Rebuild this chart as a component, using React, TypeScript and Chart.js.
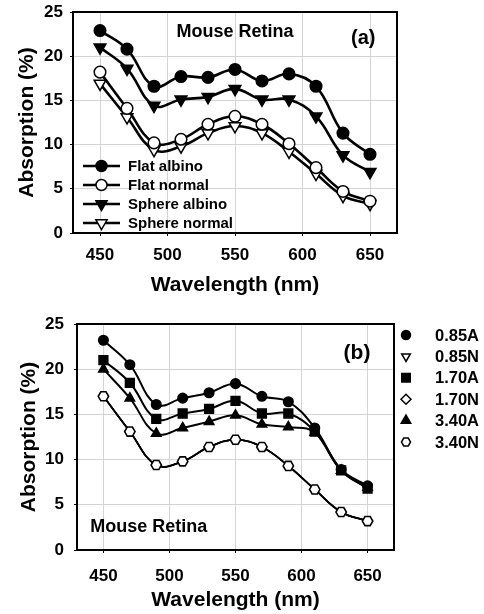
import React, { useEffect, useRef } from 'react';
import { Chart, registerables } from 'chart.js';
Chart.register(...registerables);

const wavelengths = [450, 470, 490, 510, 530, 550, 570, 590, 610, 630, 650];
const xTicks = [450, 500, 550, 600, 650];
const yTicks = [0, 5, 10, 15, 20, 25];

// Panel (a)
const flatAlbino = [22.9, 20.8, 16.6, 17.7, 17.6, 18.5, 17.2, 18.0, 16.6, 11.3, 8.9];
const flatNormal = [18.2, 14.1, 10.2, 10.6, 12.3, 13.2, 12.3, 10.1, 7.4, 4.7, 3.6];
const sphereAlbino = [21.0, 18.6, 14.4, 15.1, 15.4, 16.3, 15.1, 15.1, 13.2, 8.8, 6.9];
const sphereNormal = [16.9, 13.1, 9.4, 9.8, 11.3, 12.1, 11.3, 9.2, 6.7, 4.2, 3.3];
const legendA = ['Flat albino', 'Flat normal', 'Sphere albino', 'Sphere normal'];

// Panel (b)
const a085 = [23.2, 20.5, 16.1, 16.8, 17.4, 18.4, 17.0, 16.4, 13.5, 8.9, 7.1];
const n085 = [17.0, 13.1, 9.4, 9.8, 11.4, 12.2, 11.4, 9.3, 6.7, 4.2, 3.2];
const a170 = [21.0, 18.5, 14.5, 15.1, 15.6, 16.5, 15.1, 15.1, 13.1, 8.8, 6.8];
const n170 = [17.0, 13.1, 9.4, 9.8, 11.4, 12.2, 11.4, 9.3, 6.7, 4.2, 3.2];
const a340 = [20.0, 16.8, 12.9, 13.5, 14.2, 14.9, 13.9, 13.6, 13.0, 8.8, 6.9];
const n340 = [17.0, 13.1, 9.4, 9.8, 11.4, 12.2, 11.4, 9.3, 6.7, 4.2, 3.2];
const legendB = ['0.85A', '0.85N', '1.70A', '1.70N', '3.40A', '3.40N'];

const FONT = "'Liberation Sans', Arial, Helvetica, sans-serif";

function drawMarker(ctx: CanvasRenderingContext2D, kind: string, x: number, y: number, r: number, filled: boolean, lw: number) {
  ctx.save();
  ctx.beginPath();
  if (kind === 'circle') {
    ctx.arc(x, y, r, 0, Math.PI * 2);
  } else if (kind === 'down' || kind === 'up') {
    const base = kind === 'down' ? Math.PI : 0;
    for (let i = 0; i < 3; i++) {
      const ang = base + (2 * Math.PI / 3) * i;
      const px = x + Math.sin(ang) * r;
      const py = y - Math.cos(ang) * r;
      if (i === 0) ctx.moveTo(px, py); else ctx.lineTo(px, py);
    }
    ctx.closePath();
  } else if (kind === 'square') {
    const s = r * Math.SQRT1_2;
    ctx.rect(x - s, y - s, 2 * s, 2 * s);
  } else if (kind === 'diamond') {
    ctx.moveTo(x, y - r);
    ctx.lineTo(x + r, y);
    ctx.lineTo(x, y + r);
    ctx.lineTo(x - r, y);
    ctx.closePath();
  } else if (kind === 'hex') {
    for (let i = 0; i < 6; i++) {
      const ang = (Math.PI / 3) * i;
      const px = x + r * Math.cos(ang);
      const py = y + r * Math.sin(ang);
      if (i === 0) ctx.moveTo(px, py); else ctx.lineTo(px, py);
    }
    ctx.closePath();
  }
  ctx.fillStyle = filled ? '#000' : '#fff';
  ctx.fill();
  ctx.lineWidth = lw;
  ctx.strokeStyle = '#000';
  ctx.stroke();
  ctx.restore();
}

function ds(label: string, data: number[], style: any, radius: number, filled: boolean, lineWidth: number, rotation = 0, order = 0) {
  return {
    label,
    data: data.map((v, i) => ({ x: wavelengths[i], y: v })),
    borderColor: '#000',
    backgroundColor: filled ? '#000' : '#fff',
    pointStyle: style,
    pointRadius: radius,
    pointRotation: rotation,
    pointBackgroundColor: filled ? '#000' : '#fff',
    pointBorderColor: '#000',
    pointBorderWidth: 1.5,
    borderWidth: lineWidth,
    tension: 0.4,
    order,
  };
}

function baseOptions(yAxisWidth: number, xAxisHeight: number, padRight: number, padTop: number, yTickPad: number, xTickPad: number, xTitlePadBottom: number, yTitlePadTop: number) {
  return {
    animation: false,
    responsive: false,
    maintainAspectRatio: false,
    layout: { padding: { left: 0, right: padRight, top: padTop, bottom: 0 } },
    plugins: { legend: { display: false }, tooltip: { enabled: false } },
    scales: {
      x: {
        type: 'linear',
        min: 430,
        max: 670,
        afterBuildTicks: (axis: any) => { axis.ticks = xTicks.map((v) => ({ value: v })); },
        afterFit: (scale: any) => { scale.height = xAxisHeight; scale.paddingLeft = 0; scale.paddingRight = 0; },
        grid: { color: '#d4d4d4', lineWidth: 1, tickColor: '#000', tickLength: 3, drawTicks: true },
        border: { display: false },
        ticks: { color: '#000', font: { family: FONT, size: 17, weight: 'bold' }, padding: xTickPad, maxRotation: 0 },
        title: { display: true, text: 'Wavelength (nm)', color: '#000', font: { family: FONT, size: 21, weight: 'bold' }, padding: { top: 0, bottom: xTitlePadBottom } },
      },
      y: {
        type: 'linear',
        min: 0,
        max: 25,
        afterBuildTicks: (axis: any) => { axis.ticks = yTicks.map((v) => ({ value: v })); },
        afterFit: (scale: any) => { scale.width = yAxisWidth; scale.paddingTop = 0; scale.paddingBottom = 0; },
        grid: { color: '#d4d4d4', lineWidth: 1, tickColor: '#000', tickLength: 3, drawTicks: true },
        border: { display: false },
        ticks: { color: '#000', font: { family: FONT, size: 17, weight: 'bold' }, padding: yTickPad },
        title: { display: true, text: 'Absorption (%)', color: '#000', font: { family: FONT, size: 21, weight: 'bold' }, padding: { top: yTitlePadTop, bottom: 0 } },
      },
    },
  };
}

const frame = {
  id: 'frame',
  beforeDatasetsDraw(chart: any) {
    const { ctx, chartArea } = chart;
    ctx.save();
    ctx.lineWidth = 2;
    ctx.strokeStyle = '#000';
    ctx.strokeRect(chartArea.left, chartArea.top, chartArea.right - chartArea.left, chartArea.bottom - chartArea.top);
    ctx.restore();
  },
};

function ChartA() {
  const ref = useRef<HTMLCanvasElement>(null);
  useEffect(() => {
    const annot = {
      id: 'annotA',
      afterDatasetsDraw(chart: any) {
        const { ctx } = chart;
        const xs = chart.scales.x;
        const ys = chart.scales.y;
        ctx.save();
        ctx.fillStyle = '#000';
        ctx.textBaseline = 'middle';
        ctx.textAlign = 'center';
        ctx.font = `bold 18px ${FONT}`;
        ctx.fillText('Mouse Retina', xs.getPixelForValue(550), ys.getPixelForValue(22.7));
        ctx.font = `bold 20px ${FONT}`;
        ctx.fillText('(a)', xs.getPixelForValue(645), ys.getPixelForValue(22.0));
        const kinds = ['circle', 'circle', 'down', 'down'];
        const fills = [true, false, true, false];
        const radii = [5.5, 5.5, 6.5, 6.5];
        ctx.font = `bold 15px ${FONT}`;
        ctx.textAlign = 'left';
        const x0 = chart.chartArea.left + 10;
        for (let i = 0; i < legendA.length; i++) {
          const y = chart.chartArea.top + 154 + i * 19;
          ctx.beginPath();
          ctx.lineWidth = 2.5;
          ctx.strokeStyle = '#000';
          ctx.moveTo(x0, y);
          ctx.lineTo(x0 + 37, y);
          ctx.stroke();
          drawMarker(ctx, kinds[i], x0 + 18.5, y, radii[i], fills[i], 1.5);
          ctx.fillStyle = '#000';
          ctx.fillText(legendA[i], x0 + 45, y + 1);
        }
        ctx.restore();
      },
    };
    const chart = new Chart(ref.current!, {
      type: 'line',
      data: {
        datasets: [
          ds('Flat albino', flatAlbino, 'circle', 5.8, true, 2.6),
          ds('Flat normal', flatNormal, 'circle', 5.8, false, 2.6),
          ds('Sphere albino', sphereAlbino, 'triangle', 6.8, true, 2.6, 180),
          ds('Sphere normal', sphereNormal, 'triangle', 6.8, false, 2.6, 180),
        ],
      },
      options: baseOptions(73, 67, 87, 12, 7, 9, 2, 15) as any,
      plugins: [frame, annot],
    });
    return () => chart.destroy();
  }, []);
  return <canvas ref={ref} width={484} height={300} style={{ display: 'block', width: 484, height: 300 }} />;
}

function ChartB() {
  const ref = useRef<HTMLCanvasElement>(null);
  useEffect(() => {
    const hexPoints = {
      id: 'hexPoints',
      afterDatasetsDraw(chart: any) {
        const { ctx } = chart;
        const meta = chart.getDatasetMeta(5);
        ctx.save();
        for (const el of meta.data) {
          drawMarker(ctx, 'hex', el.x, el.y, 5.2, false, 1.6);
        }
        ctx.restore();
      },
    };
    const annot = {
      id: 'annotB',
      afterDatasetsDraw(chart: any) {
        const { ctx } = chart;
        const xs = chart.scales.x;
        const ys = chart.scales.y;
        ctx.save();
        ctx.fillStyle = '#000';
        ctx.textBaseline = 'middle';
        ctx.textAlign = 'left';
        ctx.font = `bold 18px ${FONT}`;
        ctx.fillText('Mouse Retina', xs.getPixelForValue(440), ys.getPixelForValue(2.55));
        ctx.textAlign = 'center';
        ctx.font = `bold 21px ${FONT}`;
        ctx.fillText('(b)', xs.getPixelForValue(642), ys.getPixelForValue(21.8));
        const kinds = ['circle', 'down', 'square', 'diamond', 'up', 'hex'];
        const fills = [true, false, true, false, true, false];
        const radii = [4.5, 5, 6, 5, 5.5, 4.5];
        ctx.font = `bold 16.5px ${FONT}`;
        ctx.textAlign = 'left';
        for (let i = 0; i < legendB.length; i++) {
          const y = chart.chartArea.top + 11 + i * 21.4;
          drawMarker(ctx, kinds[i], 406, y, radii[i], fills[i], 1.5);
          ctx.fillStyle = '#000';
          ctx.fillText(legendB[i], 435, y + 1);
        }
        ctx.restore();
      },
    };
    const chart = new Chart(ref.current!, {
      type: 'line',
      data: {
        datasets: [
          ds('0.85A', a085, 'circle', 4.8, true, 2, 0, 1),
          ds('0.85N', n085, 'triangle', 3, false, 1.5, 180, 5),
          ds('1.70A', a170, 'rect', 6.2, true, 2, 0, 2),
          ds('1.70N', n170, 'rectRot', 3, false, 1.5, 0, 4),
          ds('3.40A', a340, 'triangle', 5.5, true, 2, 0, 3),
          ds('3.40N', n340, 'circle', 0, false, 1.8, 0, 0),
        ],
      },
      options: baseOptions(77, 64, 90, 24, 10, 13, 1, 17) as any,
      plugins: [frame, annot, hexPoints],
    });
    return () => chart.destroy();
  }, []);
  return <canvas ref={ref} width={484} height={314} style={{ display: 'block', width: 484, height: 314 }} />;
}

export default function App() {
  return (
    <div style={{ position: 'fixed', left: 0, top: 0, width: 484, height: 614, background: '#fff' }}>
      <ChartA />
      <ChartB />
    </div>
  );
}
